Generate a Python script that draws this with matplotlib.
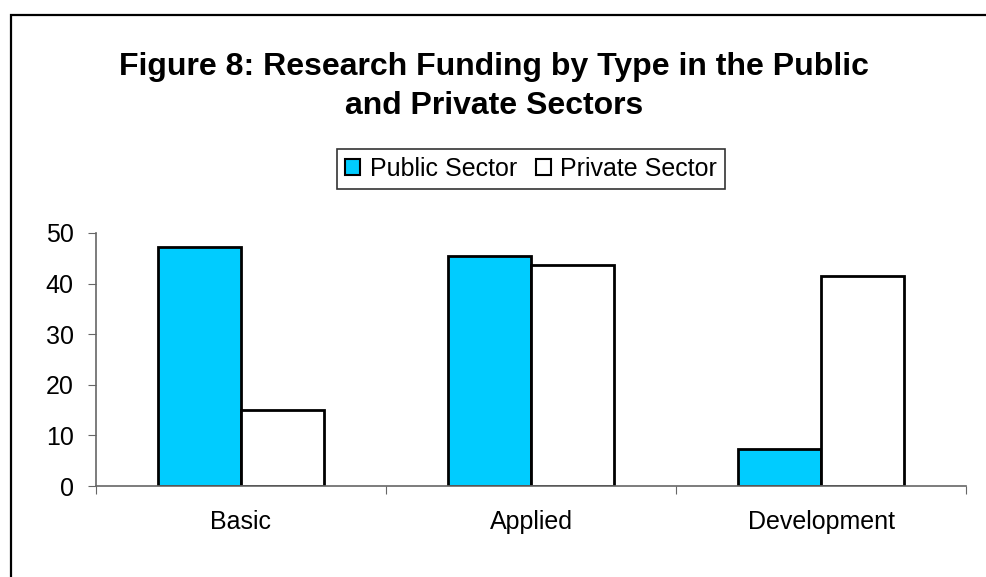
import numpy as np
import matplotlib.pyplot as plt
from matplotlib.patches import Rectangle, Patch

plt.rcParams['font.family'] = ['Liberation Sans', 'DejaVu Sans']

categories = ['Basic', 'Applied', 'Development']
public_sector = [47.3, 45.5, 7.3]
private_sector = [15.0, 43.6, 41.6]
y_ticks = [0, 10, 20, 30, 40, 50]
title_lines = ['Figure 8: Research Funding by Type in the Public', 'and Private Sectors']

fig = plt.figure(figsize=(9.86, 5.77), dpi=100)
fig.patch.set_facecolor('white')

# outer frame, cut off at right and bottom like the original
fig.patches.append(Rectangle((11 / 986, -0.05), 1.2, 1 - 15 / 577 + 0.05,
                             transform=fig.transFigure, fill=False,
                             edgecolor='black', linewidth=1.6))

ax = fig.add_axes([96 / 986, 1 - 486 / 577, 870 / 986, 253 / 577])

x = np.arange(len(categories))
w = 0.286
ax.bar(x - w / 2, public_sector, w, color='#00CCFF', edgecolor='black',
       linewidth=2, label='Public Sector')
ax.bar(x + w / 2, private_sector, w, color='white', edgecolor='black',
       linewidth=2, label='Private Sector')

ax.set_xlim(-0.5, len(categories) - 0.5)
ax.set_ylim(0, 50)
ax.set_yticks(y_ticks)
ax.set_xticks(np.arange(len(categories) + 1) - 0.5)
ax.set_xticklabels([])
ax.set_xticks(x, minor=True)
ax.set_xticklabels(categories, minor=True)
ax.tick_params(axis='x', which='minor', length=0, pad=17, labelsize=18)
ax.tick_params(axis='x', which='major', length=6, color='#666666', direction='out')
ax.tick_params(axis='y', length=6, color='#666666', labelsize=18, pad=10)

for s in ['top', 'right']:
    ax.spines[s].set_visible(False)
for s in ['left', 'bottom']:
    ax.spines[s].set_color('#666666')
    ax.spines[s].set_linewidth(1.2)

# title, two lines placed on their baselines
for line, base in zip(title_lines, [75, 114]):
    fig.text(494 / 986, 1 - base / 577, line, ha='center', va='baseline',
             fontsize=23, fontweight='bold')

handles = [Patch(facecolor='#00CCFF', edgecolor='black', linewidth=1.5),
           Patch(facecolor='white', edgecolor='black', linewidth=1.5)]
leg = fig.legend(handles, ['Public Sector', 'Private Sector'], loc='center',
                 bbox_to_anchor=(531 / 986, 1 - 169 / 577), ncol=2, frameon=True,
                 fancybox=False, edgecolor='black', fontsize=18,
                 handlelength=0.6, handleheight=0.6, handletextpad=0.38,
                 columnspacing=0.75, borderpad=0.32, borderaxespad=0)
leg.get_frame().set_linewidth(1.2)

fig.savefig('out.png', dpi=100)
